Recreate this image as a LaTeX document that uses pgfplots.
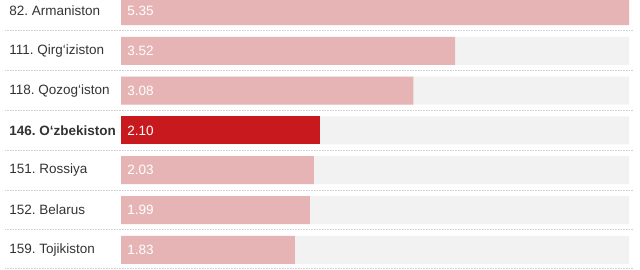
\documentclass[border=0pt]{standalone}
\usepackage{pgfplots}
\pgfplotsset{compat=1.18}
\usepackage{fontspec}
\setmainfont{Liberation Sans}
\frenchspacing
\definecolor{pinkbar}{HTML}{E6B4B4}
\definecolor{redbar}{HTML}{C8191E}
\definecolor{bgbar}{HTML}{F2F2F2}
\definecolor{txt}{HTML}{333333}
\definecolor{sep}{HTML}{D0D0D0}
\begin{document}
\begin{tikzpicture}[x=1pt,y=1pt]
\begin{axis}[
  at={(0pt,0pt)}, anchor=south west,
  scale only axis,
  width=640pt, height=270pt,
  xmin=-1.27431, xmax=5.46587,
  ymin=-0.2764, ymax=6.5075,
  y dir=reverse,
  axis lines=none,
  xbar, bar width=28pt, bar shift=0pt,
  xtick=\empty, ytick=\empty,
]
% background bars
\addplot[fill=bgbar, draw=none] coordinates {(5.35,0) (5.35,1) (5.35,2) (5.35,3) (5.35,4) (5.35,5) (5.35,6)};
% value bars
\addplot[fill=pinkbar, draw=none] coordinates {(5.35,0) (3.52,1) (3.08,2) (2.03,4) (1.99,5) (1.83,6)};
\addplot[fill=redbar, draw=none] coordinates {(2.10,3)};
% separators
\pgfplotsinvokeforeach{0.5,1.5,2.5,3.5,4.5,5.5,6.48}{
  \draw[sep, line width=1pt, dash pattern=on 0.8pt off 0.8pt] (axis cs:-1.222,#1) -- (axis cs:5.40,#1);
}
% country labels
\node[anchor=west, text=txt, font=\fontsize{13.5}{15}\selectfont] at (axis cs:-1.213,0) {82. Armaniston};
\node[anchor=west, text=txt, font=\fontsize{13.5}{15}\selectfont] at (axis cs:-1.213,1) {111. Qirg‘iziston};
\node[anchor=west, text=txt, font=\fontsize{13.5}{15}\selectfont] at (axis cs:-1.213,2) {118. Qozog‘iston};
\node[anchor=west, text=txt, font=\fontsize{13.5}{15}\selectfont\bfseries] at (axis cs:-1.213,3) {146. O‘zbekiston};
\node[anchor=west, text=txt, font=\fontsize{13.5}{15}\selectfont] at (axis cs:-1.213,4) {151. Rossiya};
\node[anchor=west, text=txt, font=\fontsize{13.5}{15}\selectfont] at (axis cs:-1.213,5) {152. Belarus};
\node[anchor=west, text=txt, font=\fontsize{13.5}{15}\selectfont] at (axis cs:-1.213,6) {159. Tojikiston};
% value labels
\node[anchor=west, text=white, font=\fontsize{13.5}{15}\selectfont] at (axis cs:0.03,0) {5.35};
\node[anchor=west, text=white, font=\fontsize{13.5}{15}\selectfont] at (axis cs:0.03,1) {3.52};
\node[anchor=west, text=white, font=\fontsize{13.5}{15}\selectfont] at (axis cs:0.03,2) {3.08};
\node[anchor=west, text=white, font=\fontsize{13.5}{15}\selectfont] at (axis cs:0.03,3) {2.10};
\node[anchor=west, text=white, font=\fontsize{13.5}{15}\selectfont] at (axis cs:0.03,4) {2.03};
\node[anchor=west, text=white, font=\fontsize{13.5}{15}\selectfont] at (axis cs:0.03,5) {1.99};
\node[anchor=west, text=white, font=\fontsize{13.5}{15}\selectfont] at (axis cs:0.03,6) {1.83};
\end{axis}
\pgfresetboundingbox
\path[use as bounding box] (0pt,0pt) rectangle (640pt,270pt);
\end{tikzpicture}
\end{document}
